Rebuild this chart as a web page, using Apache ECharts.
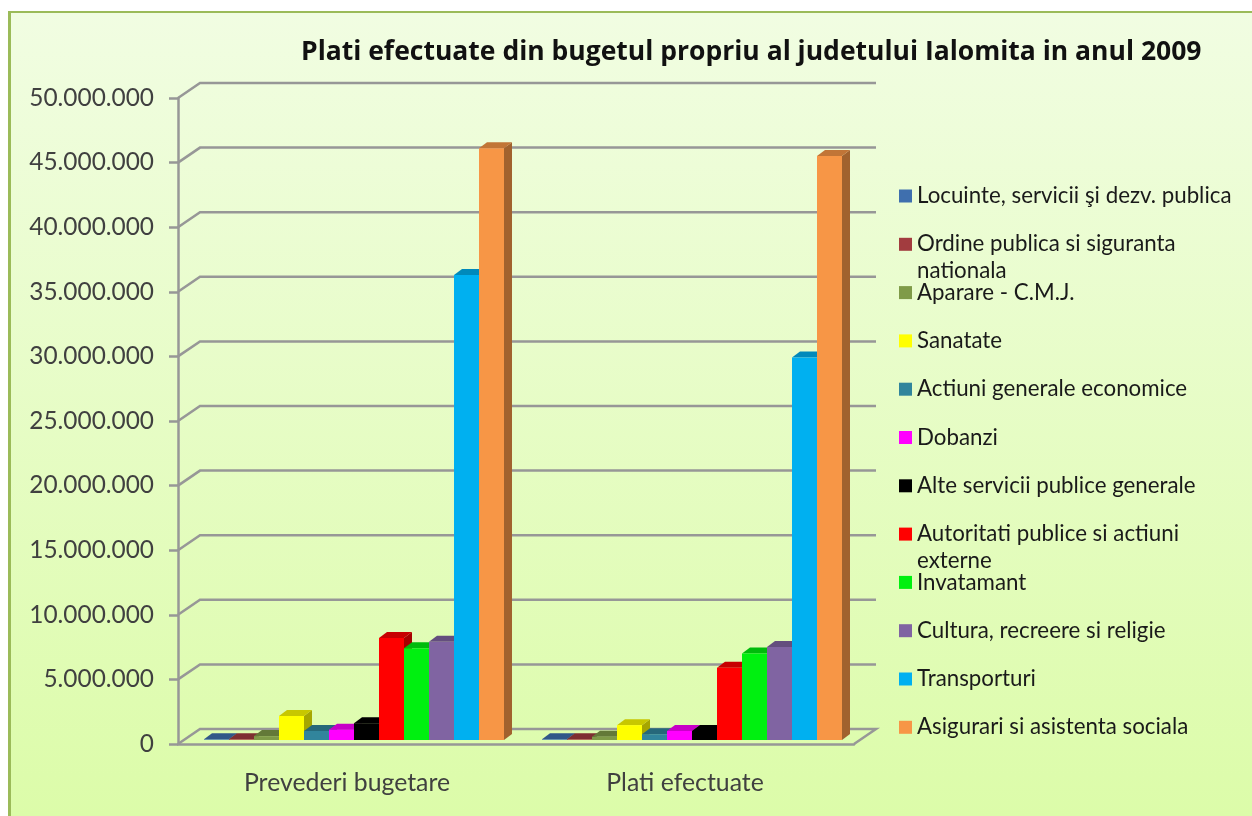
<!DOCTYPE html>
<html>
<head>
<meta charset="utf-8">
<title>Plati efectuate</title>
<style>
  html, body { margin: 0; padding: 0; background: #fff; }
  #main { width: 1252px; height: 816px; filter: blur(0.5px); }
</style>
<script src="https://cdn.jsdelivr.net/npm/echarts@6/dist/echarts.min.js"></script>
</head>
<body>
<div id="main"></div>
<script>
var categories = ['Prevederi bugetare', 'Plati efectuate']
var yTicks = [0, 5000000, 10000000, 15000000, 20000000, 25000000, 30000000, 35000000, 40000000, 45000000, 50000000]

// a line break in a name is where the legend wraps
var seriesNames = [
  'Locuinte, servicii şi dezv. publica',
  'Ordine publica si siguranta\nnationala',
  'Aparare - C.M.J.',
  'Sanatate',
  'Actiuni generale economice',
  'Dobanzi',
  'Alte servicii publice generale',
  'Autoritati publice si actiuni\nexterne',
  'Invatamant',
  'Cultura, recreere si religie',
  'Transporturi',
  'Asigurari si asistenta sociala'
]
var colors = ['#3F6FAE', '#A23C3F', '#7F9B48', '#FFFF00', '#31859C', '#FF00FF', '#000000', '#FF0000', '#00F010', '#8064A2', '#00B0F0', '#F79646']

var locuinte = [50000, 50000]
var ordine = [50000, 50000]
var aparare = [300000, 250000]
var sanatate = [1860000, 1150000]
var actiuni = [700000, 450000]
var dobanzi = [800000, 700000]
var alte = [1300000, 700000]
var autoritati = [7900000, 5600000]
var invatamant = [7100000, 6700000]
var cultura = [7600000, 7200000]
var transporturi = [36000000, 29600000]
var asigurari = [45800000, 45200000]
var seriesValues = [locuinte, ordine, aparare, sanatate, actiuni, dobanzi, alte, autoritati, invatamant, cultura, transporturi, asigurari]

// depth of the 3d floor and of the bars, in px
var wallDx = 22
var wallDy = 15
var barDx = 8
var barDy = 6
var barShiftY = 4
var barWidth = 25
var barStart = 26

var myChart = echarts.init(document.getElementById('main'))

function shade(color, k) {
  var c = echarts.color.parse(color)
  return 'rgb(' + Math.round(c[0] * k) + ',' + Math.round(c[1] * k) + ',' + Math.round(c[2] * k) + ')'
}

function renderWall(params, api) {
  var v = api.value(0)
  var cs = params.coordSys
  var p = api.coord([0, v])
  var left = cs.x
  var right = cs.x + cs.width
  var points = [[left, p[1]], [left + wallDx, p[1] - wallDy], [right + wallDx, p[1] - wallDy]]
  if (v === 0) {
    points.push([right, p[1]])
  }
  return {
    type: 'polyline',
    shape: { points: points },
    style: { stroke: '#979797', lineWidth: 2.5, fill: null }
  }
}

function renderBar(index) {
  return function(params, api) {
    var band = api.size([1, 0])[0]
    var base = api.coord([api.value(0), 0])
    var top = api.coord([api.value(0), api.value(1)])
    var x = base[0] - band / 2 + barStart + index * barWidth
    var y0 = base[1] - barShiftY
    var y1 = top[1] - barShiftY
    var color = colors[index]
    return {
      type: 'group',
      children: [{
        type: 'polygon',
        shape: { points: [[x + barWidth, y0], [x + barWidth + barDx, y0 - barDy], [x + barWidth + barDx, y1 - barDy], [x + barWidth, y1]] },
        style: { fill: shade(color, 0.65) }
      }, {
        type: 'polygon',
        shape: { points: [[x, y1], [x + barDx, y1 - barDy], [x + barWidth + barDx, y1 - barDy], [x + barWidth, y1]] },
        style: { fill: shade(color, 0.78) }
      }, {
        type: 'rect',
        shape: { x: x, y: y1, width: barWidth, height: y0 - y1 },
        style: { fill: color }
      }]
    }
  }
}

var series = [{
  type: 'custom',
  silent: true,
  z: 1,
  renderItem: renderWall,
  encode: { y: 0 },
  data: yTicks.map(function(v) { return [v] })
}]
seriesNames.forEach(function(name, i) {
  series.push({
    name: name,
    type: 'custom',
    z: 3,
    itemStyle: { color: colors[i] },
    renderItem: renderBar(i),
    encode: { x: 0, y: 1 },
    data: categories.map(function(c, j) { return [j, seriesValues[i][j]] })
  })
})

// the legend rows have a fixed pitch, so wrapped lines are placed separately
var wrapped = []
seriesNames.forEach(function(name, i) {
  var parts = name.split('\n')
  if (parts.length > 1) {
    wrapped.push({
      type: 'text',
      left: 917,
      top: 195 + i * 48.3 + 17,
      style: { text: parts[1], font: '22.3px Lato', fill: '#1a1a1a' }
    })
  }
})

var option = {
  backgroundColor: '#fff',
  animation: false,
  title: {
    text: 'Plati efectuate din bugetul propriu al judetului Ialomita in anul 2009',
    left: 296,
    top: 34,
    textStyle: { fontFamily: 'Open Sans', fontSize: 26.5, fontWeight: 'bold', color: '#111' }
  },
  legend: {
    orient: 'vertical',
    left: 894,
    top: 180,
    itemWidth: 13,
    itemHeight: 13,
    itemGap: 26.3,
    icon: 'rect',
    selectedMode: false,
    data: seriesNames,
    formatter: function(name) { return name.split('\n')[0] },
    textStyle: { fontFamily: 'Lato', fontSize: 22.3, color: '#1a1a1a', height: 21.3, lineHeight: 21.3 }
  },
  grid: { left: 178, right: 398, top: 98, height: 646 },
  xAxis: {
    type: 'category',
    data: categories,
    axisLine: { lineStyle: { color: '#979797', width: 2.5 } },
    axisTick: { length: 9, lineStyle: { color: '#979797', width: 2.5 } },
    axisLabel: { margin: 27, fontFamily: 'Lato', fontSize: 24.8, color: '#404040' }
  },
  yAxis: {
    type: 'value',
    min: 0,
    max: 50000000,
    interval: 5000000,
    axisLine: { show: true, lineStyle: { color: '#979797', width: 2.5 } },
    axisTick: { show: true, length: 9, lineStyle: { color: '#979797', width: 2.5 } },
    splitLine: { show: false },
    axisLabel: {
      margin: 24,
      fontFamily: 'Lato',
      fontSize: 24.4,
      color: '#404040',
      padding: [6, 0, 0, 0],
      formatter: function(v) { return String(v).replace(/\B(?=(\d{3})+$)/g, '.') }
    }
  },
  graphic: [{
    type: 'rect',
    silent: true,
    z: -10,
    shape: { x: 9, y: 12, width: 1243, height: 804 },
    style: {
      fill: new echarts.graphic.LinearGradient(0, 0, 0, 1, [
        { offset: 0, color: '#F1FDE2' },
        { offset: 1, color: '#DCFCA9' }
      ])
    }
  }, {
    type: 'rect',
    silent: true,
    z: -9,
    shape: { x: 8, y: 11, width: 1244, height: 2 },
    style: { fill: '#9BBB59' }
  }, {
    type: 'rect',
    silent: true,
    z: -9,
    shape: { x: 8, y: 11, width: 3, height: 805 },
    style: { fill: '#9BBB59' }
  }].concat(wrapped),
  series: series
}

myChart.setOption(option)
</script>
</body>
</html>
